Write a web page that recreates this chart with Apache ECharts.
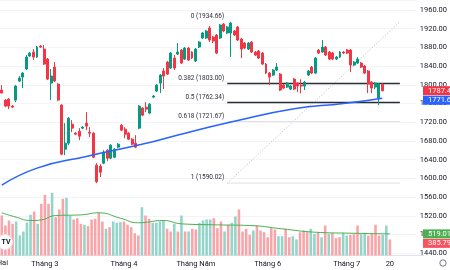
<!DOCTYPE html>
<html>
<head>
<meta charset="utf-8">
<script src="https://cdn.jsdelivr.net/npm/echarts@6/dist/echarts.min.js"></script>
<style>
  html, body { margin: 0; padding: 0; background: #fff; }
  #main { width: 450px; height: 270px; }
</style>
</head>
<body>
<div id="main"></div>
<script>
// daily candles
var opens = [1788.8, 1767.4, 1769.5, 1754.6, 1767.4, 1808.1, 1816.6, 1833.7, 1861.6, 1870.1,
  1859.4, 1883.0, 1876.5, 1855.1, 1803.8, 1838.0, 1801.6, 1756.7, 1662.5, 1675.4,
  1716.0, 1696.8, 1701.1, 1707.5, 1718.2, 1698.9, 1696.8, 1628.3, 1626.2, 1632.6,
  1660.4, 1643.3, 1645.4, 1666.8, 1713.9, 1705.3, 1696.8, 1683.9, 1675.4, 1707.5,
  1750.3, 1752.4, 1739.6, 1773.8, 1786.7, 1803.8, 1829.5, 1848.7, 1835.9, 1857.3,
  1865.8, 1874.4, 1855.1, 1878.7, 1870.1, 1850.9, 1880.8, 1900.1, 1900.1, 1921.5,
  1902.2, 1906.5, 1900.1, 1930.0, 1910.8, 1910.8, 1915.1, 1923.6, 1898.0, 1889.4,
  1876.5, 1891.5, 1870.1, 1872.3, 1868.0, 1844.4, 1825.2, 1820.9, 1831.6, 1823.0,
  1799.5, 1795.2, 1790.9, 1812.3, 1803.8, 1799.5, 1797.4, 1820.9, 1838.0, 1825.2,
  1874.4, 1870.1, 1880.8, 1870.1, 1868.0, 1855.1, 1859.4, 1870.1, 1874.4, 1874.4,
  1842.3, 1846.6, 1846.6, 1840.2, 1829.5, 1805.9, 1795.2, 1771.7, 1801.6];
var closes = [1782.4, 1754.6, 1754.6, 1752.4, 1797.4, 1814.5, 1825.2, 1859.4, 1868.0, 1859.4,
  1880.8, 1880.8, 1844.4, 1812.3, 1818.8, 1808.1, 1767.4, 1651.8, 1675.4, 1728.9,
  1707.5, 1694.6, 1690.4, 1709.6, 1711.8, 1696.8, 1645.4, 1593.0, 1613.3, 1656.1,
  1643.3, 1671.1, 1662.5, 1673.2, 1703.2, 1694.6, 1683.9, 1673.2, 1666.8, 1754.6,
  1735.3, 1748.1, 1758.8, 1776.0, 1799.5, 1820.9, 1818.8, 1823.0, 1868.0, 1835.9,
  1870.1, 1846.6, 1878.7, 1853.0, 1857.3, 1876.5, 1891.5, 1910.8, 1915.1, 1895.8,
  1893.7, 1868.0, 1927.9, 1915.1, 1923.6, 1932.2, 1906.5, 1895.8, 1876.5, 1878.7,
  1889.4, 1870.1, 1863.7, 1857.3, 1844.4, 1825.2, 1816.6, 1831.6, 1838.0, 1788.8,
  1793.1, 1803.8, 1797.4, 1790.9, 1797.4, 1797.4, 1805.9, 1829.5, 1825.2, 1857.3,
  1868.0, 1880.8, 1863.7, 1855.1, 1855.1, 1859.4, 1870.1, 1868.0, 1868.0, 1842.3,
  1848.7, 1855.1, 1838.0, 1825.2, 1801.6, 1793.1, 1803.8, 1801.6, 1787.45];
var lows = [1782.4, 1752.4, 1748.1, 1750.3, 1763.1, 1805.9, 1793.1, 1831.6, 1859.4, 1853.0,
  1857.3, 1878.7, 1842.3, 1810.2, 1767.4, 1805.9, 1765.3, 1649.7, 1649.7, 1671.1,
  1698.9, 1692.5, 1681.8, 1705.3, 1703.2, 1688.2, 1643.3, 1590.02, 1602.6, 1630.4,
  1636.9, 1641.1, 1643.3, 1664.7, 1701.1, 1686.1, 1681.8, 1671.1, 1664.7, 1705.3,
  1733.2, 1741.8, 1737.5, 1771.7, 1784.5, 1782.4, 1790.9, 1820.9, 1833.7, 1831.6,
  1863.7, 1844.4, 1853.0, 1850.9, 1855.0, 1848.7, 1878.7, 1898.0, 1898.0, 1891.5,
  1889.4, 1865.8, 1898.0, 1912.9, 1908.7, 1859.4, 1904.4, 1893.7, 1857.3, 1876.5,
  1874.4, 1868.0, 1861.6, 1855.1, 1842.3, 1823.0, 1799.5, 1818.8, 1829.5, 1786.7,
  1790.9, 1793.1, 1788.8, 1788.8, 1784.5, 1782.0, 1788.8, 1818.8, 1823.0, 1823.0,
  1865.8, 1868.0, 1861.6, 1853.0, 1853.0, 1853.0, 1857.3, 1865.8, 1865.8, 1827.3,
  1840.2, 1844.4, 1835.9, 1823.0, 1782.4, 1782.4, 1790.9, 1756.7, 1786.0];
var highs = [1799.5, 1769.5, 1771.7, 1756.7, 1799.5, 1818.8, 1827.3, 1863.7, 1870.1, 1876.5,
  1883.0, 1885.1, 1885.1, 1857.3, 1833.7, 1848.7, 1803.8, 1758.8, 1718.2, 1731.0,
  1724.6, 1698.9, 1707.5, 1711.8, 1741.8, 1709.6, 1698.9, 1632.6, 1630.4, 1660.4,
  1662.5, 1673.2, 1664.7, 1675.4, 1716.0, 1709.6, 1698.9, 1686.1, 1692.5, 1756.7,
  1752.4, 1763.1, 1761.0, 1778.1, 1801.6, 1823.0, 1835.9, 1850.9, 1870.1, 1863.7,
  1889.4, 1876.5, 1880.8, 1880.8, 1872.0, 1878.7, 1893.7, 1912.9, 1917.2, 1925.8,
  1904.4, 1908.7, 1930.0, 1932.2, 1925.8, 1934.66, 1917.2, 1925.8, 1900.1, 1891.5,
  1891.5, 1893.7, 1872.3, 1874.4, 1870.1, 1846.6, 1827.3, 1833.7, 1846.6, 1825.2,
  1801.6, 1805.9, 1799.5, 1814.5, 1805.9, 1812.0, 1808.1, 1831.6, 1840.2, 1859.4,
  1876.5, 1895.8, 1883.0, 1872.3, 1870.1, 1861.6, 1872.3, 1872.3, 1876.5, 1876.5,
  1850.9, 1859.4, 1848.7, 1842.3, 1831.6, 1808.1, 1805.9, 1803.8, 1803.0];
var volumes = [960, 720, 840, 760, 816, 480, 576, 792, 977, 1056,
  760, 1241, 1457, 1241, 1505, 919, 1104, 1361, 1385, 960,
  864, 895, 760, 737, 703, 864, 881, 1025, 816, 641,
  679, 816, 785, 799, 816, 737, 679, 535, 480, 1159,
  960, 881, 785, 785, 816, 840, 641, 576, 761, 576,
  960, 576, 576, 641, 624, 785, 840, 864, 864, 895,
  655, 816, 576, 737, 785, 936, 1104, 576, 641, 497,
  600, 720, 600, 559, 439, 655, 624, 463, 463, 641,
  439, 463, 384, 559, 600, 559, 641, 521, 545, 439,
  720, 521, 545, 415, 439, 545, 480, 497, 511, 720,
  511, 545, 480, 521, 737, 480, 497, 720, 385.791];

// moving averages: [candle index, value]
var ma200 = [[0, 1585.5], [10, 1622], [24, 1647], [41, 1675], [50, 1693], [66, 1722], [83, 1749], [97, 1760], [108, 1771.61]];
var volMa = [[0, 1025], [4, 920], [8, 840], [11, 855], [15, 960], [22, 975], [27, 1025], [33, 895], [38, 785],
  [45, 840], [50, 760], [60, 735], [69, 720], [78, 640], [87, 560], [97, 535], [108, 519.019]];

// fibonacci retracement
var fibLevels = [0, 0.382, 0.5, 0.618, 1];
var fibPrices = [1934.66, 1803.00, 1762.34, 1721.67, 1590.02];
var fibFrom = 64, fibTo = 113;

// time axis
var monthIdx = [12, 34, 54, 74, 96, 108];
var monthNames = ['Tháng 3', 'Tháng 4', 'Tháng Năm', 'Tháng 6', 'Tháng 7', '20'];
var futureSlots = 9;

var UP = '#089981', DOWN = '#f23645';
var cats = [];
for (var i = 0; i < opens.length + futureSlots; i++) cats.push(String(i));

var candles = opens.map(function (o, i) { return [o, closes[i], lows[i], highs[i]]; });
var volData = volumes.map(function (v, i) {
  return { value: v, itemStyle: { color: closes[i] >= opens[i] ? '#93d5c9' : '#f8a5aa' } };
});

var chart = echarts.init(document.getElementById('main'));

var fibSeries = fibPrices.map(function (p, k) {
  var dark = (k === 1 || k === 2);
  return {
    type: 'line', xAxisIndex: 0, yAxisIndex: 0, symbol: 'none', silent: true,
    data: [[fibFrom, p], [fibTo, p]],
    lineStyle: { color: dark ? '#2a2e39' : (k === 0 ? 'rgba(0,0,0,0)' : '#e0e1e5'), width: dark ? 1.5 : 1 },
    z: 1
  };
});

var option = {
  animation: false,
  backgroundColor: '#ffffff',
  textStyle: { fontFamily: 'Roboto, "DejaVu Sans", sans-serif' },
  grid: [
    { left: 0, right: 26, top: 0.64, bottom: 16.7 },
    { left: 0, right: 26, top: 155.5, bottom: 14.5 }
  ],
  xAxis: [
    { type: 'category', gridIndex: 0, data: cats, show: false },
    {
      type: 'category', gridIndex: 1, data: cats,
      axisLine: { lineStyle: { color: '#e0e3eb' } },
      axisTick: { show: false },
      axisLabel: {
        interval: function (i) { return monthIdx.indexOf(i) >= 0; },
        formatter: function (v, i) { var k = monthIdx.indexOf(i); return k >= 0 ? monthNames[k] : ''; },
        fontSize: 7.5, color: '#131722', margin: 5
      }
    }
  ],
  yAxis: [
    {
      type: 'value', gridIndex: 0, position: 'right', min: 1440, max: 1980, interval: 40,
      axisLine: { show: false }, axisTick: { show: false },
      axisLabel: { showMaxLabel: false, formatter: function (v) { return v.toFixed(2); }, fontSize: 7.5, color: '#131722', margin: 4 },
      splitLine: { lineStyle: { color: '#f3f4f7' } }
    },
    { type: 'value', gridIndex: 1, min: 0, max: 2400, show: false }
  ],
  series: [
    { type: 'bar', xAxisIndex: 1, yAxisIndex: 1, data: volData, barWidth: '72%', z: 0 },
    {
      type: 'line', xAxisIndex: 1, yAxisIndex: 1, data: volMa, symbol: 'none', smooth: true,
      lineStyle: { color: '#4caf50', width: 1 }, z: 1
    },
    {
      type: 'line', xAxisIndex: 0, yAxisIndex: 0, symbol: 'none', silent: true,
      data: [[fibFrom, fibPrices[4]], [fibTo, fibPrices[0]]],
      lineStyle: { color: '#b8bbc4', width: 1, type: [1, 2] }, z: 1
    }
  ].concat(fibSeries).concat([
    {
      type: 'candlestick', xAxisIndex: 0, yAxisIndex: 0, data: candles, barWidth: '70%',
      itemStyle: { color: UP, color0: DOWN, borderColor: UP, borderColor0: DOWN, borderWidth: 1 }, z: 3
    },
    {
      type: 'line', xAxisIndex: 0, yAxisIndex: 0, data: ma200, symbol: 'none', smooth: true,
      lineStyle: { color: '#2962ff', width: 1.5 }, z: 4
    }
  ])
};
chart.setOption(option);

// annotations placed through the chart's own scales
var g = [];
fibLevels.forEach(function (lv, k) {
  var pt = chart.convertToPixel({ gridIndex: 0 }, [fibFrom, fibPrices[k]]);
  g.push({
    type: 'text', x: pt[0] - 3, y: pt[1] - 5.5, z: 10,
    style: { text: lv + ' (' + fibPrices[k].toFixed(2) + ')', align: 'right', verticalAlign: 'middle',
      font: '6.5px Roboto, sans-serif', fill: '#2a2e39' }
  });
});

function tag(y, color, text) {
  g.push({ type: 'rect', shape: { x: 423, y: y - 4.5, width: 30, height: 9 }, style: { fill: color }, z: 20 });
  g.push({ type: 'text', x: 428, y: y, z: 21,
    style: { text: text, align: 'left', verticalAlign: 'middle', font: '7.5px Roboto, sans-serif', fill: '#ffffff' } });
}
var n = closes.length - 1;
var yClose = chart.convertToPixel({ yAxisIndex: 0 }, closes[n]);
var yMa = Math.max(chart.convertToPixel({ yAxisIndex: 0 }, ma200[ma200.length - 1][1]), yClose + 9.5);
tag(yClose, DOWN, closes[n].toFixed(2));
tag(yMa, '#2962ff', ma200[ma200.length - 1][1].toFixed(2));
var yVma = chart.convertToPixel({ yAxisIndex: 1 }, volMa[volMa.length - 1][1]);
var yVol = Math.max(chart.convertToPixel({ yAxisIndex: 1 }, volumes[n]), yVma + 9.5);
tag(yVma, '#4caf50', volMa[volMa.length - 1][1].toFixed(3));
tag(yVol, '#f7525f', volumes[n].toFixed(3));

// cut-off month label at the left edge
g.push({ type: 'text', x: 8, y: 263, z: 10,
  style: { text: 'Tháng Hai', align: 'right', verticalAlign: 'middle', font: '7.5px Roboto, sans-serif', fill: '#131722' } });
// logo and settings icon
g.push({ type: 'circle', shape: { cx: 5, cy: 242, r: 7.5 }, style: { fill: '#ffffff', stroke: '#e6e7eb', lineWidth: 1 }, z: 15 });
g.push({ type: 'text', x: 6, y: 242, z: 16,
  style: { text: 'TV', align: 'center', verticalAlign: 'middle', font: 'bold 7px Roboto, sans-serif', fill: '#131722' } });
g.push({ type: 'circle', shape: { cx: 443, cy: 263, r: 3.2 }, style: { fill: 'none', stroke: '#787b86', lineWidth: 1 }, z: 15 });

chart.setOption({ graphic: g });
</script>
</body>
</html>
